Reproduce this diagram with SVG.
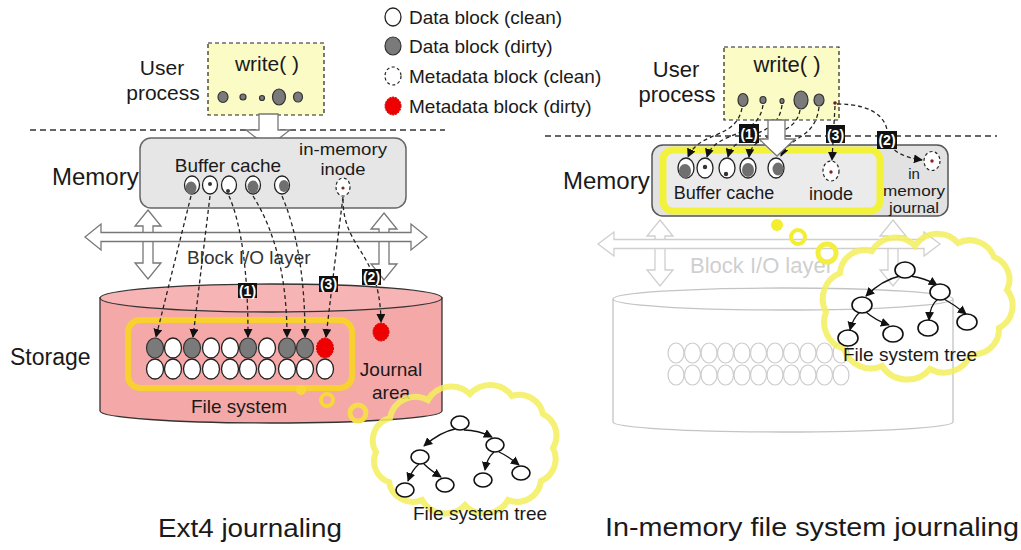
<svg xmlns="http://www.w3.org/2000/svg" width="1021" height="550" viewBox="0 0 1021 550">
<style>
text{font-family:"Liberation Sans",Arial,sans-serif;fill:#1a1a1a}
.lg{font-size:19px}
.dc{fill:#fff;stroke:#222;stroke-width:1.3}
.dd{fill:#7a7a7a;stroke:#333;stroke-width:1.2}
.gi{fill:#6f6f6f;stroke:none}
.dt{fill:#333;stroke:none}
.mc{fill:#fff;stroke:#222;stroke-width:1.2;stroke-dasharray:3 2.5}
.md{fill:#ee0000;stroke:#c00;stroke-width:1;stroke-dasharray:2 1}
.wb{fill:#fbfbc6;stroke:#222;stroke-width:1.2;stroke-dasharray:4 3}
.sep{stroke:#333;stroke-width:1.3;stroke-dasharray:6 4;fill:none}
.hol{fill:#fff;stroke:#777;stroke-width:1.3}
.holf{fill:#fff;stroke:#cfcfcf;stroke-width:1.3}
.con{fill:none;stroke:#222;stroke-width:1.3;stroke-dasharray:4 3;marker-end:url(#ah)}
.tr{fill:none;stroke:#111;stroke-width:1.3;marker-end:url(#ah)}
.tn{fill:#fff;stroke:#111;stroke-width:1.6}
.lab rect{fill:#111}
.lab text{fill:#fff;font-weight:bold;font-size:14px;text-anchor:middle}
.cloud{fill:none;stroke:#f3ee5c;stroke-opacity:0.85;stroke-width:6}
.fade{fill:#fff;stroke:#cccccc;stroke-width:1.2}
.mid{text-anchor:middle}
</style>
<defs>
<marker id="ah" viewBox="0 0 10 10" refX="9" refY="5" markerWidth="9" markerHeight="9" markerUnits="userSpaceOnUse" orient="auto"><path d="M0,0 L10,5 L0,10 z" fill="#111"/></marker>
</defs>

<!-- Legend -->
<g id="legend">
<ellipse class="dc" cx="393" cy="17" rx="8" ry="9"/>
<text class="lg" x="409" y="24">Data block (clean)</text>
<ellipse class="dd" cx="393" cy="46" rx="8" ry="9"/>
<text class="lg" x="409" y="53">Data block (dirty)</text>
<ellipse class="mc" cx="393" cy="76" rx="8" ry="9"/>
<text class="lg" x="409" y="83">Metadata block (clean)</text>
<ellipse class="md" cx="393" cy="106" rx="8" ry="9"/>
<text class="lg" x="409" y="113">Metadata block (dirty)</text>
</g>

<!-- ============ LEFT: Ext4 journaling ============ -->
<line class="sep" x1="30" y1="130" x2="445" y2="130"/>

<g id="left-user">
<text x="162" y="75" class="mid" font-size="21">User</text>
<text x="163" y="100" class="mid" font-size="21">process</text>
<rect class="wb" x="208" y="43" width="116" height="72"/>
<text x="267" y="71" class="mid" font-size="21">write( )</text>
<ellipse class="dd" cx="223" cy="97" rx="5" ry="5.5"/>
<ellipse class="dd" cx="243" cy="97" rx="3" ry="3"/>
<ellipse class="dd" cx="262" cy="98" rx="2.5" ry="2.5"/>
<ellipse class="dd" cx="279" cy="97" rx="6.5" ry="8"/>
<ellipse class="dd" cx="298" cy="97" rx="4.5" ry="5"/>
</g>

<path class="hol" d="M259 114 L278 114 L278 130 L290 130 L268 147 L246 130 L259 130 Z"/>

<g id="left-memory">
<text x="52" y="185" font-size="24">Memory</text>
<rect x="140" y="138" width="266" height="70" rx="11" fill="#e6e6e6" stroke="#666" stroke-width="1.5"/>
<text x="228" y="172" class="mid" font-size="19">Buffer cache</text>
<text x="343" y="155" class="mid" font-size="17" textLength="88" lengthAdjust="spacingAndGlyphs">in-memory</text>
<text x="343" y="175" class="mid" font-size="17" textLength="45" lengthAdjust="spacingAndGlyphs">inode</text>
<ellipse class="dc" cx="192" cy="185" rx="7.5" ry="9"/>
<ellipse class="gi" cx="191" cy="188" rx="5.5" ry="6.5"/>
<ellipse class="dc" cx="210" cy="185" rx="7.5" ry="9"/>
<circle class="dt" cx="210" cy="184" r="2"/>
<ellipse class="dc" cx="229" cy="185" rx="7.5" ry="9"/>
<circle class="dt" cx="228" cy="191" r="2"/>
<ellipse class="dc" cx="253" cy="185" rx="7.5" ry="9"/>
<ellipse class="gi" cx="253" cy="187" rx="5.5" ry="6.5"/>
<ellipse class="dc" cx="282" cy="185" rx="7.5" ry="9"/>
<ellipse class="gi" cx="284" cy="186" rx="5" ry="6"/>
<ellipse class="mc" cx="343" cy="187" rx="7" ry="9"/>
<circle cx="343" cy="188" r="1.6" fill="#822"/>
</g>

<g id="left-blockio">
<path class="hol" d="M148 210 L161 226 L153 226 L153 263 L161 263 L148 279 L135 263 L143 263 L143 226 L135 226 Z"/>
<path class="hol" d="M384 213 L397 229 L389 229 L389 264 L397 264 L384 280 L371 264 L379 264 L379 229 L371 229 Z"/>
<path class="hol" d="M85 237 L101 224 L101 232.5 L411 232.5 L411 224 L427 237 L411 250 L411 241.5 L101 241.5 L101 250 Z"/>
<text x="187" y="264" font-size="19" style="fill:#333">Block I/O layer</text>
</g>

<g id="left-storage">
<path d="M100 298 L100 411 A171 12 0 0 0 442 411 L442 298 Z" fill="#f5a8a8" stroke="#333" stroke-width="1.3"/>
<ellipse cx="271" cy="298" rx="171" ry="14" fill="#f7b4b4" stroke="#333" stroke-width="1.3"/>
<text x="10" y="365" font-size="23">Storage</text>
<rect x="128" y="320" width="224" height="68" rx="12" fill="none" stroke="#f8d030" stroke-width="6"/>
<g>
<ellipse class="dd" cx="155" cy="348" rx="8.5" ry="10"/>
<ellipse class="dc" cx="173" cy="348" rx="8.5" ry="10"/>
<ellipse class="dd" cx="192" cy="348" rx="8.5" ry="10"/>
<ellipse class="dc" cx="211" cy="348" rx="8.5" ry="10"/>
<ellipse class="dc" cx="230" cy="348" rx="8.5" ry="10"/>
<ellipse class="dd" cx="248" cy="348" rx="8.5" ry="10"/>
<ellipse class="dc" cx="267" cy="348" rx="8.5" ry="10"/>
<ellipse class="dd" cx="287" cy="348" rx="8.5" ry="10"/>
<ellipse class="dd" cx="305" cy="348" rx="8.5" ry="10"/>
<ellipse class="md" cx="325" cy="348" rx="8.5" ry="10"/>
<ellipse class="dc" cx="155" cy="369" rx="8.5" ry="10"/>
<ellipse class="dc" cx="173" cy="369" rx="8.5" ry="10"/>
<ellipse class="dc" cx="192" cy="369" rx="8.5" ry="10"/>
<ellipse class="dc" cx="211" cy="369" rx="8.5" ry="10"/>
<ellipse class="dc" cx="230" cy="369" rx="8.5" ry="10"/>
<ellipse class="dc" cx="248" cy="369" rx="8.5" ry="10"/>
<ellipse class="dc" cx="267" cy="369" rx="8.5" ry="10"/>
<ellipse class="dc" cx="287" cy="369" rx="8.5" ry="10"/>
<ellipse class="dc" cx="305" cy="369" rx="8.5" ry="10"/>
<ellipse class="dc" cx="325" cy="369" rx="8.5" ry="10"/>
</g>
<ellipse class="md" cx="381" cy="332" rx="8" ry="9"/>
<text x="391" y="376" class="mid" font-size="19">Journal</text>
<text x="391" y="399" class="mid" font-size="19">area</text>
<text x="239" y="413" class="mid" font-size="19">File system</text>
</g>

<g id="left-bubbles">
<circle cx="301" cy="390" r="5" fill="#f8d838"/>
<circle cx="327" cy="400" r="6" fill="none" stroke="#f8d838" stroke-width="4"/>
<circle cx="358" cy="413" r="8" fill="none" stroke="#f6dc48" stroke-width="5"/>
</g>

<g id="left-cloud">
<path class="cloud" d="M376 452 A23 23 0 0 1 390 418 A26 26 0 0 1 428 400 A27 27 0 0 1 470 394 A27 27 0 0 1 512 396 A24 24 0 0 1 543 414 A24 24 0 0 1 553 448 A24 24 0 0 1 541 481 A24 24 0 0 1 508 500 A27 27 0 0 1 465 505 A27 27 0 0 1 422 500 A24 24 0 0 1 389 482 A22 22 0 0 1 376 452 Z"/>
<g id="left-tree">
<path class="tr" d="M455 429 Q440 432 424 446"/>
<path class="tr" d="M464 430 Q478 430 492 437"/>
<path class="tr" d="M419 464 Q412 470 408 481"/>
<path class="tr" d="M424 464 Q430 470 441 477"/>
<path class="tr" d="M494 452 Q487 458 485 470"/>
<path class="tr" d="M499 452 Q508 456 519 465"/>
<ellipse class="tn" cx="460" cy="423" rx="9" ry="7"/>
<ellipse class="tn" cx="420" cy="457" rx="9" ry="7"/>
<ellipse class="tn" cx="495" cy="445" rx="9" ry="7"/>
<ellipse class="tn" cx="405" cy="490" rx="9" ry="7"/>
<ellipse class="tn" cx="445" cy="485" rx="9" ry="7"/>
<ellipse class="tn" cx="483" cy="480" rx="9" ry="7"/>
<ellipse class="tn" cx="521" cy="473" rx="9" ry="7"/>
</g>
<text x="413" y="520" font-size="19">File system tree</text>
</g>

<g id="left-connectors">
<path class="con" d="M191 196 L156 337"/>
<path class="con" d="M210 196 L193 337"/>
<path class="con" d="M229 196 Q248 240 248 337"/>
<path class="con" d="M253 196 Q287 250 287 337"/>
<path class="con" d="M282 196 Q305 250 305 337"/>
<path class="con" d="M343 197 Q335 260 326 337"/>
<path class="con" d="M343 199 C343 250 380 250 381 322"/>
</g>

<g id="left-labels" class="lab">
<rect x="238" y="283" width="19" height="15"/><text x="247.5" y="296">(1)</text>
<rect x="319" y="276" width="19" height="16"/><text x="328.5" y="289">(3)</text>
<rect x="362" y="269" width="19" height="16"/><text x="371.5" y="282">(2)</text>
</g>

<text x="158" y="537" font-size="25" textLength="184" lengthAdjust="spacingAndGlyphs">Ext4 journaling</text>

<!-- ============ RIGHT: In-memory file system journaling ============ -->
<line class="sep" x1="545" y1="136" x2="997" y2="136"/>

<g id="right-storage">
<path d="M613 299 L613 422 A170 10 0 0 0 953 422 L953 299" fill="#fff" stroke="#c4c4c4" stroke-width="1.3"/>
<ellipse cx="783" cy="299" rx="170" ry="11" fill="#fff" stroke="#c4c4c4" stroke-width="1.3"/>
<g>
<ellipse class="fade" cx="676" cy="353" rx="8" ry="10"/>
<ellipse class="fade" cx="692.5" cy="353" rx="8" ry="10"/>
<ellipse class="fade" cx="709" cy="353" rx="8" ry="10"/>
<ellipse class="fade" cx="725.5" cy="353" rx="8" ry="10"/>
<ellipse class="fade" cx="742" cy="353" rx="8" ry="10"/>
<ellipse class="fade" cx="758.5" cy="353" rx="8" ry="10"/>
<ellipse class="fade" cx="775" cy="353" rx="8" ry="10"/>
<ellipse class="fade" cx="791.5" cy="353" rx="8" ry="10"/>
<ellipse class="fade" cx="808" cy="353" rx="8" ry="10"/>
<ellipse class="fade" cx="824.5" cy="353" rx="8" ry="10"/>
<ellipse class="fade" cx="841" cy="353" rx="8" ry="10"/>
<ellipse class="fade" cx="676" cy="375" rx="8" ry="10"/>
<ellipse class="fade" cx="692.5" cy="375" rx="8" ry="10"/>
<ellipse class="fade" cx="709" cy="375" rx="8" ry="10"/>
<ellipse class="fade" cx="725.5" cy="375" rx="8" ry="10"/>
<ellipse class="fade" cx="742" cy="375" rx="8" ry="10"/>
<ellipse class="fade" cx="758.5" cy="375" rx="8" ry="10"/>
<ellipse class="fade" cx="775" cy="375" rx="8" ry="10"/>
<ellipse class="fade" cx="791.5" cy="375" rx="8" ry="10"/>
<ellipse class="fade" cx="808" cy="375" rx="8" ry="10"/>
<ellipse class="fade" cx="824.5" cy="375" rx="8" ry="10"/>
<ellipse class="fade" cx="841" cy="375" rx="8" ry="10"/>
</g>
</g>

<g id="right-blockio">
<path class="holf" d="M660 220 L673 236 L665 236 L665 270 L673 270 L660 286 L647 270 L655 270 L655 236 L647 236 Z"/>
<path class="holf" d="M893 220 L906 236 L898 236 L898 270 L906 270 L893 286 L880 270 L888 270 L888 236 L880 236 Z"/>
<path class="holf" d="M598 244 L614 232 L614 239.5 L924 239.5 L924 232 L940 244 L924 256 L924 248.5 L614 248.5 L614 256 Z"/>
<text x="690" y="273" font-size="22" style="fill:#cfcfcf">Block I/O layer</text>
</g>

<g id="right-user">
<text x="676" y="77" class="mid" font-size="22">User</text>
<text x="677" y="102" class="mid" font-size="22">process</text>
<rect class="wb" x="724" y="47" width="115" height="73"/>
<text x="787" y="72" class="mid" font-size="22">write( )</text>
<ellipse class="dd" cx="743" cy="100" rx="5" ry="6.5"/>
<ellipse class="dd" cx="763" cy="100" rx="3" ry="3.5"/>
<ellipse class="dd" cx="782" cy="101" rx="2" ry="2.5"/>
<ellipse class="dd" cx="801" cy="100" rx="7" ry="9"/>
<ellipse class="dd" cx="819" cy="100" rx="5" ry="6"/>
<circle cx="835" cy="103" r="1.8" fill="#622"/>
</g>

<g id="right-memory">
<text x="563" y="189" font-size="24">Memory</text>
<rect x="652" y="145" width="296" height="71" rx="11" fill="#e2e2e2" stroke="#555" stroke-width="1.5"/>
<rect x="663" y="150" width="217" height="61" rx="10" fill="#ebebeb" stroke="#f2f23a" stroke-width="7"/>
<ellipse class="dc" cx="686" cy="168" rx="8" ry="10"/>
<ellipse class="gi" cx="685" cy="171" rx="6" ry="7"/>
<ellipse class="dc" cx="705" cy="168" rx="8" ry="10"/>
<circle class="dt" cx="705" cy="167" r="2.2"/>
<ellipse class="dc" cx="727" cy="168" rx="8" ry="10"/>
<circle class="dt" cx="726" cy="174" r="2.2"/>
<ellipse class="dc" cx="748" cy="168" rx="8" ry="10"/>
<ellipse class="gi" cx="748" cy="170" rx="6" ry="7"/>
<ellipse class="dc" cx="776" cy="168" rx="8" ry="10"/>
<ellipse class="gi" cx="778" cy="169" rx="5.5" ry="6.5"/>
<ellipse class="mc" cx="831" cy="171" rx="8" ry="10"/>
<circle cx="831" cy="172" r="1.7" fill="#822"/>
<ellipse class="mc" cx="932" cy="161" rx="8" ry="9.5"/>
<circle cx="932" cy="161" r="1.7" fill="#822"/>
<text x="724" y="199" class="mid" font-size="18">Buffer cache</text>
<text x="831" y="200" class="mid" font-size="18">inode</text>
<text x="914" y="179" class="mid" font-size="15">in</text>
<text x="914" y="196" class="mid" font-size="15" textLength="62" lengthAdjust="spacingAndGlyphs">memory</text>
<text x="914" y="213" class="mid" font-size="15" textLength="50" lengthAdjust="spacingAndGlyphs">journal</text>
</g>

<g id="right-connectors">
<path class="con" d="M742 108 C736 140 700 130 688 157"/>
<path class="con" d="M763 105 C758 140 715 130 707 157"/>
<path class="con" d="M782 105 C778 140 735 130 728 157"/>
<path class="con" d="M800 110 C795 140 752 130 749 157"/>
<path class="con" d="M819 107 C815 140 790 135 781 156"/>
<path class="con" d="M835 106 L832 160"/>
<path class="con" d="M837 104 C878 104 890 122 887 140 Q893 156 922 160"/>
</g>

<path class="hol" d="M768 120 L785 120 L785 139 L795 139 L777 156 L759 139 L768 139 Z"/>

<g id="right-labels" class="lab">
<rect x="739" y="124" width="20" height="19"/><text x="749" y="139">(1)</text>
<rect x="826" y="125" width="19" height="18"/><text x="835.5" y="140">(3)</text>
<rect x="877" y="131" width="20" height="18"/><text x="887" y="145">(2)</text>
</g>

<g id="right-bubbles">
<circle cx="777" cy="225" r="6" fill="#f4ee30"/>
<circle cx="798" cy="237" r="7" fill="none" stroke="#f4ee30" stroke-width="4"/>
<circle cx="827" cy="253" r="9" fill="none" stroke="#f4ee40" stroke-width="5"/>
</g>

<g id="right-cloud">
<path class="cloud" d="M826 312 A28 28 0 0 1 840 273 A25 25 0 0 1 872 251 A27 27 0 0 1 915 246 A27 27 0 0 1 958 243 A26 26 0 0 1 994 257 A24 24 0 0 1 1007 290 A25 25 0 0 1 999 328 A25 25 0 0 1 971 354 A29 29 0 0 1 930 369 A30 30 0 0 1 882 366 A28 28 0 0 1 844 349 A28 28 0 0 1 826 312 Z"/>
<g id="right-tree">
<path class="tr" d="M900 276 Q882 280 866 296"/>
<path class="tr" d="M910 276 Q925 278 937 285"/>
<path class="tr" d="M860 312 Q853 318 850 330"/>
<path class="tr" d="M866 312 Q875 320 889 325"/>
<path class="tr" d="M938 299 Q930 305 929 320"/>
<path class="tr" d="M944 299 Q955 305 966 314"/>
<ellipse class="tn" cx="905" cy="270" rx="10" ry="8"/>
<ellipse class="tn" cx="862" cy="305" rx="10" ry="8"/>
<ellipse class="tn" cx="940" cy="292" rx="10" ry="8"/>
<ellipse class="tn" cx="848" cy="338" rx="10" ry="8"/>
<ellipse class="tn" cx="893" cy="334" rx="10" ry="8"/>
<ellipse class="tn" cx="928" cy="328" rx="10" ry="8"/>
<ellipse class="tn" cx="967" cy="322" rx="10" ry="8"/>
</g>
<text x="843" y="361" font-size="19">File system tree</text>
</g>

<text x="605" y="536" font-size="25" textLength="414" lengthAdjust="spacingAndGlyphs">In-memory file system journaling</text>
</svg>
